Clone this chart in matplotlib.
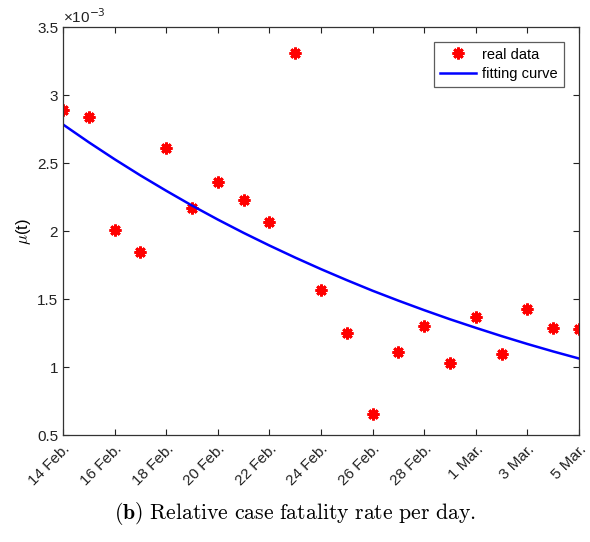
import matplotlib
matplotlib.use("Agg")
import matplotlib.pyplot as plt

# Data (values in units of 1e-3)
day_labels = ["14 Feb.", "16 Feb.", "18 Feb.", "20 Feb.", "22 Feb.", "24 Feb.",
              "26 Feb.", "28 Feb.", "1 Mar.", "3 Mar.", "5 Mar."]
label_days = [0, 2, 4, 6, 8, 10, 12, 14, 16, 18, 20]
days = list(range(21))
real_data = [2.89, 2.84, 2.01, 1.85, 2.61, 2.17, 2.36, 2.23, 2.07, 3.31, 1.57,
             1.25, 0.655, 1.11, 1.30, 1.03, 1.37, 1.10, 1.43, 1.29, 1.28]
fit_curve = [2.786, 2.655, 2.530, 2.411, 2.298, 2.189, 2.086, 1.988, 1.895,
             1.806, 1.721, 1.640, 1.562, 1.489, 1.419, 1.352, 1.289, 1.228,
             1.170, 1.115, 1.063]
y_ticks = [0.5, 1, 1.5, 2, 2.5, 3, 3.5]
y_ticklabels = ["0.5", "1", "1.5", "2", "2.5", "3", "3.5"]

plt.rcParams['font.family'] = ['Liberation Sans', 'DejaVu Sans']
plt.rcParams['mathtext.fontset'] = 'cm'

fig = plt.figure(figsize=(5.9, 5.42), dpi=100)
ax = fig.add_axes([0.1068, 0.1974, 0.8746, 0.7519])

ax.plot(days, real_data, linestyle='none', marker=(8, 2, 0), markersize=8.5,
        markeredgewidth=2.0, color='#ff0000', label='real data')
ax.plot(days, fit_curve, color='#0000ff', linewidth=1.8, label='fitting curve')

ax.set_xlim(0, 20)
ax.set_ylim(0.5, 3.5)
ax.set_xticks(label_days)
ax.set_xticklabels(day_labels, rotation=45, ha='right', rotation_mode='anchor')
ax.set_yticks(y_ticks)
ax.set_yticklabels(y_ticklabels)
ax.tick_params(direction='in', top=True, right=True, length=4, width=0.8,
               labelsize=11, colors='#222222')
ax.tick_params(axis='x', pad=5)
for s in ax.spines.values():
    s.set_linewidth(0.9)
    s.set_color('#333333')

ax.set_ylabel(r"$\mu$(t)", fontsize=12)
ax.yaxis.set_label_coords(-0.058, 0.5)
ax.text(0.0, 1.003, "×10$^{-3}$", transform=ax.transAxes, fontsize=11,
        ha='left', va='bottom', color='#222222', math_fontfamily='dejavusans')

leg = ax.legend(loc='upper right', bbox_to_anchor=(0.97, 0.965), fontsize=10.5,
                frameon=True, fancybox=False, borderpad=0.4, handlelength=2.5,
                handletextpad=0.4, labelspacing=0.35, borderaxespad=0)
leg.get_frame().set_edgecolor('#333333')
leg.get_frame().set_linewidth(0.9)

fig.text(0.5, 0.053, r"$\mathbf{(b)}\ \mathrm{Relative\ case\ fatality\ rate\ per\ day.}$",
         ha='center', va='center', fontsize=15.7)

fig.savefig("out.png", dpi=100)
